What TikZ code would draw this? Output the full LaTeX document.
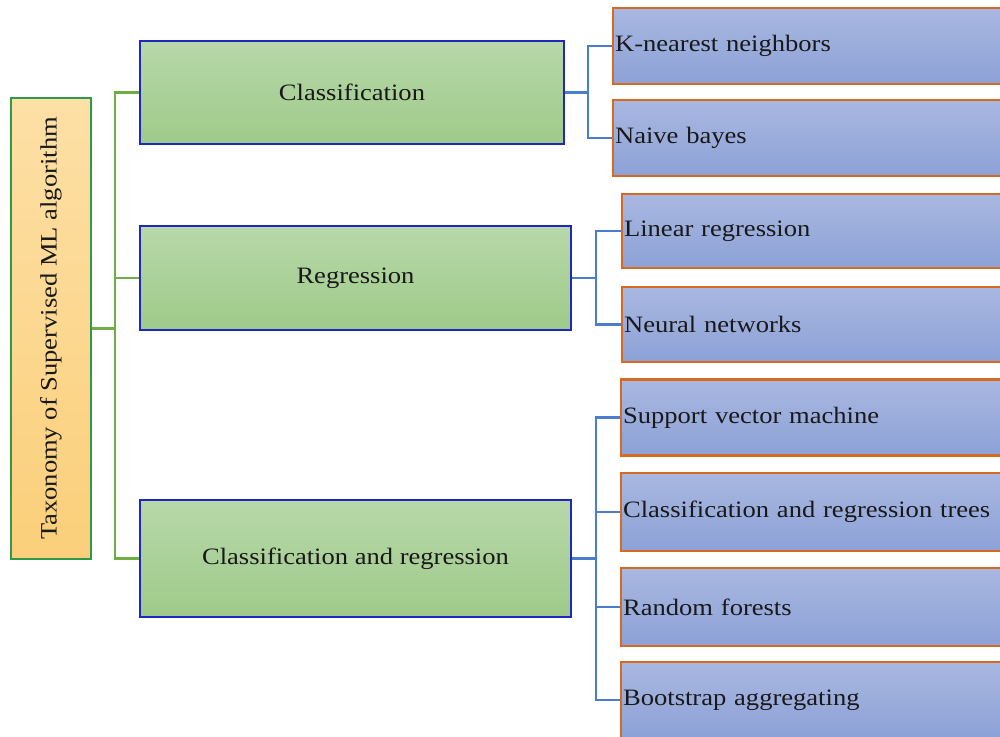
\documentclass[tikz,border=0pt]{standalone}
\usepackage{fontspec}
\setmainfont{Liberation Serif}[FakeStretch=1.13]
\usepackage{graphicx}
\usetikzlibrary{positioning}

\definecolor{rootTop}{HTML}{FDE0A6}
\definecolor{rootBot}{HTML}{FBCF7A}
\definecolor{rootLine}{HTML}{2E9A48}
\definecolor{midTop}{HTML}{B7D8A9}
\definecolor{midBot}{HTML}{9FCA8A}
\definecolor{midLine}{HTML}{1C28BE}
\definecolor{leafTop}{HTML}{A9B8E1}
\definecolor{leafBot}{HTML}{8CA1D6}
\definecolor{leafLine}{HTML}{D9691F}
\definecolor{greenLink}{HTML}{70AD47}
\definecolor{blueLink}{HTML}{4A7CCF}

\newcommand\diagfont{\fontsize{23.5}{27}\selectfont}

\begin{document}
\begin{tikzpicture}[x=1pt, y=-1pt,
  every node/.style={font=\diagfont, text=black!90},
  rootbox/.style={draw=rootLine, line width=2.2pt, top color=rootTop, bottom color=rootBot,
    minimum width=80pt, minimum height=461pt, inner sep=0pt},
  midbox/.style={draw=midLine, line width=2.4pt, top color=midTop, bottom color=midBot, inner sep=0pt},
  leaf/.style={draw=leafLine, line width=2.2pt, top color=leafTop, bottom color=leafBot,
    anchor=west, text width=400pt, align=left, inner xsep=2pt, inner ysep=0pt},
  glink/.style={draw=greenLink, line width=2.2pt},
  blink/.style={draw=blueLink, line width=2.2pt}
  ]
  \clip (0,0) rectangle (1000,736);

  % root
  \node[rootbox] (root) at (51,328.5) {\rotatebox{90}{Taxonomy of Supervised ML algorithm}};

  % second level
  \node[midbox, minimum width=424pt, minimum height=103pt] (cls) at (352,92.5) {Classification};
  \node[midbox, minimum width=431pt, minimum height=104pt] (reg) at (355.5,278) {Regression};
  \node[midbox, minimum width=431pt, minimum height=117pt] (clr) at (355.5,558.5) {Classification and regression};

  % leaves
  \node[leaf, minimum height=76pt] (knn) at (612,46) {K-nearest neighbors};
  \node[leaf, minimum height=76pt] (nb) at (612,138) {Naive bayes};
  \node[leaf, minimum height=74pt] (lr) at (621,231) {Linear regression};
  \node[leaf, minimum height=75pt] (nn) at (621,324.5) {Neural networks};
  \node[leaf, minimum height=76pt] (svm) at (620,417.5) {Support vector machine};
  \node[leaf, minimum height=78pt] (cart) at (620,512) {Classification and regression trees};
  \node[leaf, minimum height=78pt] (rf) at (620,607) {Random forests};
  \node[leaf, minimum height=76pt] (bag) at (620,700) {Bootstrap aggregating};

  % connectors
  \coordinate (rj) at (115,328.5);
  \draw[glink] (root.east) -- (rj);
  \foreach \m in {cls,reg,clr}
    \draw[glink] (rj) |- (\m.west);

  \coordinate (cj) at (588,92.5);
  \draw[blink] (cls.east) -- (cj);
  \foreach \m in {knn,nb}
    \draw[blink] (cj) |- (\m.west);

  \coordinate (rgj) at (596,278);
  \draw[blink] (reg.east) -- (rgj);
  \foreach \m in {lr,nn}
    \draw[blink] (rgj) |- (\m.west);

  \coordinate (crj) at (596,558.5);
  \draw[blink] (clr.east) -- (crj);
  \foreach \m in {svm,cart,rf,bag}
    \draw[blink] (crj) |- (\m.west);

\end{tikzpicture}
\end{document}
